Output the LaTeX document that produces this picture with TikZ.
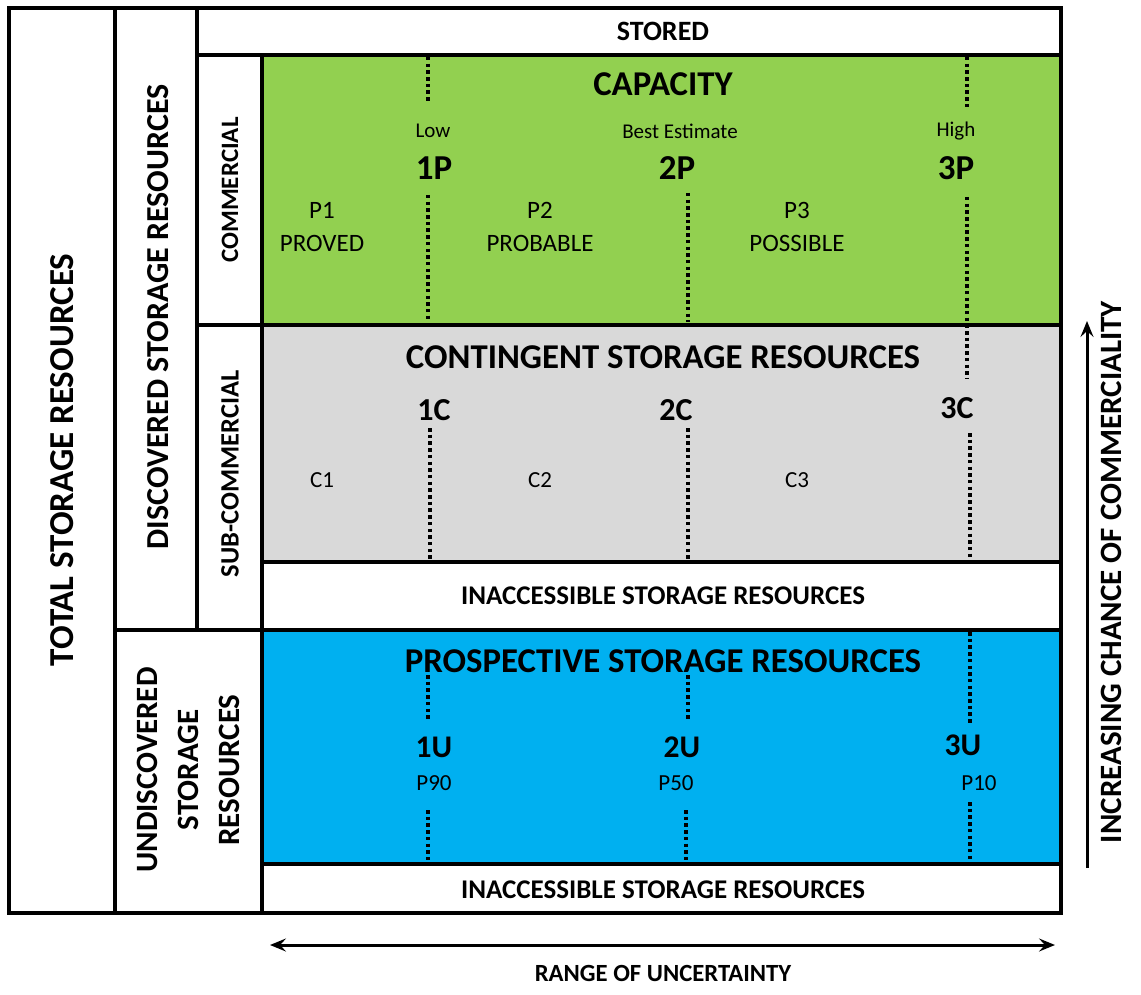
\documentclass[tikz,border=0pt]{standalone}
\usepackage{fontspec}
\setmainfont{Carlito}
\usetikzlibrary{arrows.meta}
\definecolor{capgreen}{HTML}{92D050}
\definecolor{contgray}{HTML}{D9D9D9}
\definecolor{prosblue}{HTML}{00B0F0}
\tikzset{
  frame/.style={line width=4pt},
  dots/.style={line width=4pt, dash pattern=on 3.5pt off 3.2pt},
  head/.style={font=\fontsize{34.8}{38}\selectfont\bfseries},
  sub/.style={font=\fontsize{27}{30}\selectfont\bfseries},
  side/.style={font=\fontsize{31}{41}\selectfont\bfseries, rotate=90, align=center},
  sidesmall/.style={font=\fontsize{25}{30}\selectfont\bfseries, rotate=90},
  lvl/.style={font=\fontsize{35}{38}\selectfont\bfseries},
  lvlc/.style={font=\fontsize{32}{36}\selectfont\bfseries},
  lvlu/.style={font=\fontsize{31.5}{36}\selectfont\bfseries},
  lab/.style={font=\fontsize{25}{28}\selectfont},
  labs/.style={font=\fontsize{23}{26}\selectfont},
  small/.style={font=\fontsize{21}{24}\selectfont},
  axis/.style={line width=3pt, {Stealth[length=16pt,width=13pt,inset=6pt]}-{Stealth[length=16pt,width=13pt,inset=6pt]}},
  uparrow/.style={line width=3pt, -{Stealth[length=16pt,width=13pt,inset=6pt]}},
}
\begin{document}
\begin{tikzpicture}[x=1pt,y=-1pt]
\useasboundingbox (0,0) rectangle (1141,995);
% fills
\fill[capgreen] (262,55) rectangle (1061,325);
\fill[contgray] (262,325) rectangle (1061,562);
\fill[prosblue] (262,630) rectangle (1061,864);
% dotted lines
\draw[dots] (428,57) -- (428,103);
\draw[dots] (428,195) -- (428,322);
\draw[dots] (688,193) -- (688,322);
\draw[dots] (967,57) -- (967,110);
\draw[dots] (967,197) -- (967,378);
\draw[dots] (430,428) -- (430,560);
\draw[dots] (688,428) -- (688,560);
\draw[dots] (970,433) -- (970,559);
\draw[dots] (428,675) -- (428,720);
\draw[dots] (428,810) -- (428,862);
\draw[dots] (688,675) -- (688,720);
\draw[dots] (686,810) -- (686,862);
\draw[dots] (970,632) -- (970,723);
\draw[dots] (970,802) -- (970,862);
% frame
\draw[frame] (9,8) rectangle (1061,913);
\draw[frame] (115,8) -- (115,913);
\draw[frame] (197,8) -- (197,630);
\draw[frame] (197,55) -- (1061,55);
\draw[frame] (262,55) -- (262,913);
\draw[frame] (197,325) -- (1061,325);
\draw[frame] (262,562) -- (1061,562);
\draw[frame] (115,630) -- (1061,630);
\draw[frame] (262,864) -- (1061,864);
% left labels
\node[side, font=\fontsize{35}{41}\selectfont\bfseries] (total) at (62,460) {TOTAL STORAGE RESOURCES};
\node[side, font=\fontsize{32}{41}\selectfont\bfseries] (disc) at (158,317) {DISCOVERED STORAGE RESOURCES};
\node[sidesmall] (comm) at (230,190) {COMMERCIAL};
\node[sidesmall, font=\fontsize{26.5}{30}\selectfont\bfseries] (subc) at (230,474) {SUB-COMMERCIAL};
\node[side] (undisc) at (188,770) {UNDISCOVERED\\STORAGE\\RESOURCES};
% top
\node[sub, font=\fontsize{28}{30}\selectfont\bfseries] (stored) at (663,31) {STORED};
\node[head] (cap) at (663,84) {CAPACITY};
\node[small] (low) at (433,131) {Low};
\node[small] (best) at (680,131) {Best Estimate};
\node[small] (high) at (956,131) {High};
\node[lvl] (p1x) at (434,168) {1P};
\node[lvl] (p2x) at (677,168) {2P};
\node[lvl] (p3x) at (956,168) {3P};
\node[lab] (p1) at (322,210) {P1};
\node[lab] (proved) at (322,243) {PROVED};
\node[lab] (p2) at (540,210) {P2};
\node[lab] (probable) at (540,243) {PROBABLE};
\node[lab] (p3) at (797,210) {P3};
\node[lab] (possible) at (797,243) {POSSIBLE};
% contingent
\node[head] (cont) at (663,357) {CONTINGENT STORAGE RESOURCES};
\node[lvlc] (c1x) at (434,410) {1C};
\node[lvlc] (c2x) at (676,410) {2C};
\node[lvlc] (c3x) at (957,408) {3C};
\node[labs] (c1) at (322,480) {C1};
\node[labs] (c2) at (540,480) {C2};
\node[labs] (c3) at (797,480) {C3};
\node[sub] (inacc1) at (663,596) {INACCESSIBLE STORAGE RESOURCES};
% prospective
\node[head] (pros) at (663,661) {PROSPECTIVE STORAGE RESOURCES};
\node[lvlu] (u1x) at (434,747) {1U};
\node[lvlu] (u2x) at (682,747) {2U};
\node[lvlu] (u3x) at (963,745) {3U};
\node[labs] (p90) at (434,783) {P90};
\node[labs] (p50) at (676,783) {P50};
\node[labs] (p10) at (979,783) {P10};
\node[sub] (inacc2) at (663,890) {INACCESSIBLE STORAGE RESOURCES};
% axes
\coordinate (hl) at (270,945);
\coordinate (hr) at (1055,945);
\draw[axis] (hl) -- (hr);
\node[font=\fontsize{24.7}{28}\selectfont\bfseries] (range) at (663,973) {RANGE OF UNCERTAINTY};
\coordinate (vb) at (1087,868);
\coordinate (vt) at (1087,321);
\draw[uparrow] (vb) -- (vt);
\node[side] (incr) at (1111,572) {INCREASING CHANCE OF COMMERCIALITY};
\end{tikzpicture}
\end{document}
